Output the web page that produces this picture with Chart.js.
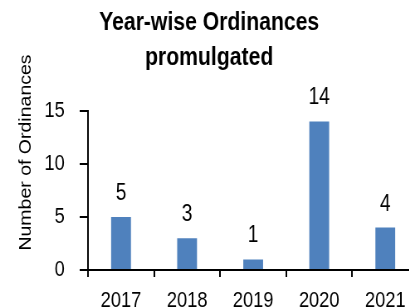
<!DOCTYPE html>
<html>
<head>
<meta charset="utf-8">
<script src="https://cdn.jsdelivr.net/npm/chart.js@4"></script>
<style>
  html, body { margin: 0; padding: 0; overflow: hidden; background: #fff; width: 409px; height: 307px; }
  #wrap { position: absolute; left: 0; top: 0; width: 520px; height: 307px; transform: scaleX(0.83); transform-origin: 0 0; }
</style>
</head>
<body>
<div id="wrap"><canvas id="c" width="520" height="307"></canvas></div>
<script>
const categories = ['2017', '2018', '2019', '2020', '2021'];
const ordinances = [5, 3, 1, 14, 4];
const yTicks = [0, 5, 10, 15];
const chartTitle = ['Year-wise Ordinances', 'promulgated'];
const yTitle = 'Number of Ordinances';

const FONT = "'Liberation Sans', Arial, sans-serif";

const valueLabels = {
  id: 'valueLabels',
  afterDatasetsDraw(chart) {
    const ctx = chart.ctx;
    const meta = chart.getDatasetMeta(0);
    ctx.save();
    ctx.font = "23px " + FONT;
    ctx.fillStyle = '#000';
    ctx.textAlign = 'center';
    ctx.textBaseline = 'alphabetic';
    meta.data.forEach((bar, i) => {
      ctx.fillText(String(chart.data.datasets[0].data[i]), bar.x, bar.y - 17);
    });
    ctx.restore();
  }
};

const yTitlePlugin = {
  id: 'yTitlePlugin',
  afterDraw(chart) {
    const ctx = chart.ctx;
    ctx.save();
    ctx.translate(32, 152.5);
    ctx.rotate(-Math.PI / 2);
    ctx.font = "19.5px " + FONT;
    ctx.fillStyle = '#000';
    ctx.textAlign = 'center';
    ctx.textBaseline = 'middle';
    ctx.fillText(yTitle, 0, 0);
    ctx.restore();
  }
};

new Chart(document.getElementById('c'), {
  type: 'bar',
  data: {
    labels: categories,
    datasets: [{
      data: ordinances,
      backgroundColor: '#4F81BD',
      borderWidth: 0,
      categoryPercentage: 1,
      barPercentage: 0.3
    }]
  },
  options: {
    responsive: false,
    animation: false,
    devicePixelRatio: 1,
    layout: { padding: { left: 0, right: 16, top: 0, bottom: 0 } },
    plugins: {
      legend: { display: false },
      tooltip: { enabled: false },
      title: {
        display: true,
        text: chartTitle,
        color: '#000',
        font: { family: FONT, size: 25.5, weight: 'bold', lineHeight: 1.37 },
        padding: { top: 6, bottom: 35 }
      }
    },
    scales: {
      x: {
        offset: true,
        grid: { display: true, offset: true, drawOnChartArea: false, drawTicks: true, tickLength: 7, color: '#000', lineWidth: 2 },
        border: { display: true, color: '#000', width: 2 },
        ticks: { color: '#000', padding: 11, font: { family: FONT, size: 22 }, maxRotation: 0 },
        afterFit(scale) { scale.height = 37; }
      },
      y: {
        min: 0, max: 15,
        afterBuildTicks(scale) { scale.ticks = yTicks.map(v => ({ value: v })); },
        grid: { display: true, drawOnChartArea: false, drawTicks: true, tickLength: 10, color: '#000', lineWidth: 2 },
        border: { display: true, color: '#000', width: 2 },
        ticks: { color: '#000', padding: 18, font: { family: FONT, size: 22 } },
        afterFit(scale) { scale.width = 106; }
      }
    }
  },
  plugins: [valueLabels, yTitlePlugin]
});
</script>
</body>
</html>
